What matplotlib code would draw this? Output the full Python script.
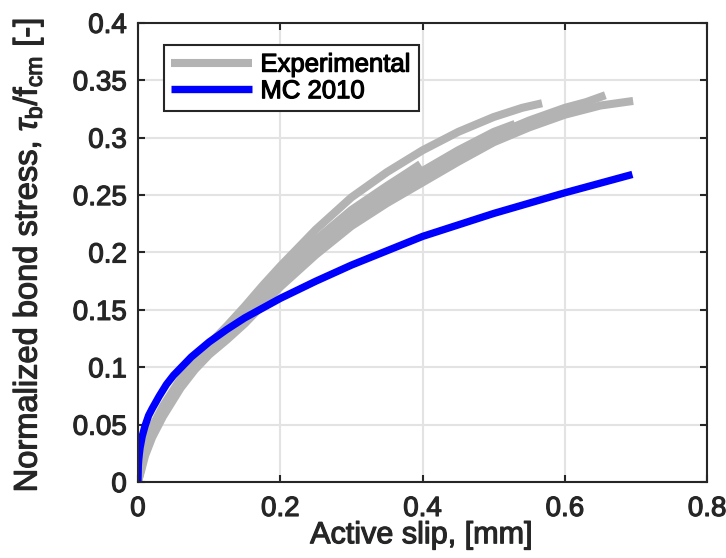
import numpy as np
import matplotlib
matplotlib.use("Agg")
import matplotlib.pyplot as plt
import matplotlib.patheffects as pe

plt.rcParams['font.family'] = ['Liberation Sans', 'DejaVu Sans']
plt.rcParams['mathtext.fontset'] = 'custom'
plt.rcParams['mathtext.rm'] = 'Liberation Sans'
plt.rcParams['mathtext.it'] = 'Liberation Sans:italic'

# experimental curves (slip [mm], tau_b/f_cm [-])
exp_a_s = [0, 0.005, 0.01, 0.02, 0.035, 0.06, 0.08, 0.1, 0.125, 0.15, 0.175, 0.2, 0.25, 0.3, 0.35, 0.4, 0.45, 0.5, 0.54, 0.568]
exp_a_t = [0, 0.018, 0.032, 0.048, 0.066, 0.09, 0.106, 0.12, 0.136, 0.153, 0.171, 0.188, 0.22, 0.248, 0.27, 0.289, 0.305, 0.318, 0.326, 0.330]
exp_b_s = [0, 0.005, 0.01, 0.02, 0.035, 0.06, 0.08, 0.1, 0.125, 0.15, 0.2, 0.25, 0.3, 0.35, 0.4, 0.45, 0.5, 0.55, 0.6, 0.63, 0.657]
exp_b_t = [0, 0.013, 0.026, 0.042, 0.06, 0.085, 0.1, 0.114, 0.128, 0.142, 0.174, 0.204, 0.23, 0.25, 0.268, 0.286, 0.302, 0.315, 0.326, 0.331, 0.337]
exp_c_s = [0, 0.005, 0.01, 0.02, 0.035, 0.06, 0.08, 0.1, 0.125, 0.15, 0.2, 0.25, 0.3, 0.35, 0.4, 0.45, 0.5, 0.55, 0.6, 0.65, 0.696]
exp_c_t = [0, 0.011, 0.023, 0.039, 0.057, 0.082, 0.098, 0.111, 0.124, 0.138, 0.17, 0.198, 0.223, 0.243, 0.261, 0.279, 0.296, 0.309, 0.32, 0.328, 0.332]
exp_d_s = [0, 0.005, 0.01, 0.02, 0.035, 0.06, 0.08, 0.1, 0.125, 0.15, 0.2, 0.25, 0.3, 0.35, 0.38, 0.397]
exp_d_t = [0, 0.016, 0.03, 0.046, 0.064, 0.088, 0.103, 0.117, 0.132, 0.148, 0.182, 0.211, 0.237, 0.258, 0.27, 0.277]
exp_e_s = [0, 0.005, 0.01, 0.02, 0.035, 0.06, 0.08, 0.1, 0.125, 0.15, 0.2, 0.25, 0.3, 0.35, 0.4, 0.45, 0.5, 0.53]
exp_e_t = [0, 0.015, 0.029, 0.045, 0.063, 0.087, 0.102, 0.116, 0.13, 0.145, 0.177, 0.207, 0.233, 0.253, 0.271, 0.289, 0.305, 0.312]

# MC 2010 model curve
mc_s = [0, 0.0005, 0.001, 0.002, 0.003, 0.006, 0.01, 0.015, 0.02, 0.03, 0.04, 0.05, 0.075, 0.1, 0.125, 0.15, 0.2, 0.25, 0.3, 0.4, 0.5, 0.6, 0.695]
mc_t = [0, 0.014, 0.019, 0.025, 0.030, 0.040, 0.049, 0.058, 0.064, 0.075, 0.085, 0.093, 0.109, 0.122, 0.133, 0.143, 0.160, 0.175, 0.189, 0.214, 0.234, 0.252, 0.268]

exp_curves = [(exp_a_s, exp_a_t), (exp_d_s, exp_d_t), (exp_e_s, exp_e_t),
              (exp_b_s, exp_b_t), (exp_c_s, exp_c_t)]

ink = '#262626'
heavy = [pe.withStroke(linewidth=0.85, foreground=ink)]

fig = plt.figure(figsize=(7.26, 5.58), dpi=100)
ax = fig.add_axes([0.190, 0.136, 0.784, 0.823])

gray = '#b3b3b3'
for i, (s, t) in enumerate(exp_curves):
    ax.plot(s, t, color=gray, lw=5.8, solid_capstyle='butt', solid_joinstyle='round',
            label='Experimental' if i == 0 else None)
ax.plot(mc_s, mc_t, color='#0000ff', lw=5.3, solid_capstyle='butt',
        solid_joinstyle='round', label='MC 2010')

ax.set_xlim(0, 0.8)
ax.set_ylim(0, 0.4)
ax.set_xticks([0, 0.2, 0.4, 0.6, 0.8])
ax.set_xticklabels(['0', '0.2', '0.4', '0.6', '0.8'])
ax.set_yticks(np.arange(0, 0.401, 0.05))
ax.set_yticklabels(['0', '0.05', '0.1', '0.15', '0.2', '0.25', '0.3', '0.35', '0.4'])
ax.grid(True, color='#e3e3e3', lw=1.5)
ax.set_axisbelow(True)
ax.tick_params(direction='in', length=5, width=1.5, top=True, right=True,
               labelsize=20, colors=ink)
ax.tick_params(axis='y', pad=8)
ax.tick_params(axis='x', pad=10)
for lab in ax.get_xticklabels() + ax.get_yticklabels():
    lab.set_path_effects(heavy)
for sp in ax.spines.values():
    sp.set_linewidth(1.5)
    sp.set_color(ink)

ax.set_xlabel('Active slip, [mm]', fontsize=22, color=ink, path_effects=heavy)
ax.xaxis.set_label_coords(0.497, -0.083)
ax.set_ylabel(r'Normalized bond stress, $\it{\tau}_{\rm b}$/f$_{\rm cm}$ [-]',
              fontsize=23.5, color=ink, path_effects=heavy)
ax.yaxis.set_label_coords(-0.162, 0.494)

leg = ax.legend(loc='upper left', bbox_to_anchor=(0.045, 0.952), fontsize=18.5,
                frameon=True, fancybox=False, handlelength=3.15, handletextpad=0.32,
                borderpad=0.3, labelspacing=0.1, borderaxespad=0)
leg.get_frame().set_edgecolor(ink)
leg.get_frame().set_linewidth(1.5)
leg.get_frame().set_alpha(1)
for txt in leg.get_texts():
    txt.set_path_effects([pe.withStroke(linewidth=0.85, foreground='black')])
    txt.set_color('black')

fig.savefig('out.png', dpi=100)
